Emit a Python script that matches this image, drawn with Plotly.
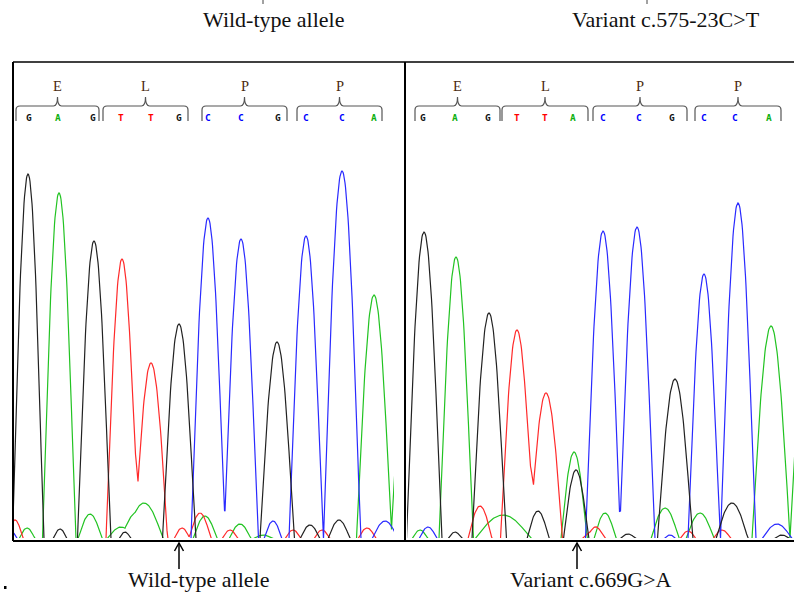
import numpy as np
import plotly.graph_objects as go

# ---------------- data ----------------
# Peaks per dye channel: position (scan units, from panel's left border),
# height (signal units), half-width (scan units)

# Left panel: wild-type
L_G_pos = [15, 81, 166, 264, 47, 112, 297, 326]
L_G_h   = [365, 298, 215, 197, 10, 7, 14, 19]
L_G_w   = [15.5, 16.5, 16.5, 17, 7, 6, 10, 11]

L_A_pos = [46, 361, 397, 14, 77, 108, 131, 192, 227, 250]
L_A_h   = [346, 244, 230, 11, 25, 12, 36, 23, 15, 4]
L_A_w   = [16.5, 17.5, 19, 8, 12, 14, 19, 12, 11, 10]

L_T_pos = [109, 138, 2, 169, 187, 217, 280, 309, 354]
L_T_h   = [280, 176, 19, 11, 26, 9, 9, 9, 11]
L_T_w   = [16, 16.5, 8, 8, 11, 8, 8, 8, 9]

L_C_pos = [195, 228, 293, 329, 260, 372, -2]
L_C_h   = [321, 300, 303, 368, 18, 18, 8]
L_C_w   = [17, 17, 17, 18.5, 9, 13, 6]

# Right panel: variant
R_G_pos = [19, 84, 270, 171, 50, 133, 223, 327, 377]
R_G_h   = [307, 226, 160, 69, 7, 28, 5, 36, 4]
R_G_w   = [17.5, 17, 17.5, 12.5, 7, 11, 8, 16, 8]

R_A_pos = [51, 366, 169, 405, 15, 98, 200, 260, 295]
R_A_h   = [282, 213, 87, 250, 9, 24, 26, 31, 26]
R_A_w   = [17, 19, 13, 20, 8, 28, 11, 14, 14]

R_T_pos = [112, 141, 75, 187, 193, 283, 317]
R_T_h   = [209, 146, 33, 7, 7, 8, 9]
R_T_w   = [16.5, 16.5, 12, 10, 8, 8, 9]

R_C_pos = [198, 232, 299, 333, 23, 265, 372]
R_C_h   = [308, 312, 265, 336, 12, 4, 15]
R_C_w   = [17.5, 17.5, 16, 17.5, 9, 6, 15]

# Base calls
L_seq = list("GAGTTGCCGCCA")
L_call_pos = [16, 45, 80, 108, 138, 166, 195, 228, 265, 293, 329, 361]
R_seq = list("GAGTTACCGCCA")
R_call_pos = [18, 50, 83, 112, 140, 168, 198, 234, 267, 299, 330, 364]

# Codons / amino acids
amino = ["E", "L", "P", "P"]
L_codon_start = [3, 90, 189, 284]
L_codon_end   = [86, 175, 274, 369]
R_codon_start = [10, 97, 188, 290]
R_codon_end   = [95, 183, 282, 376]

top_titles = ["Wild-type allele", "Variant c.575-23C>T"]
bottom_labels = ["Wild-type allele", "Variant c.669G>A"]

# ---------------- figure ----------------
W, H = 794, 593
def px(x): return x / W
def py(y): return 1 - y / H

COL = {"G": "#222222", "A": "#22c322", "T": "#ff2a2a", "C": "#2a2aff"}
BASECOL = {"G": "#111111", "A": "#10b010", "T": "#ff0000", "C": "#0000ff"}

def trace_curve(xs, pos, h, w):
    y = np.zeros_like(xs)
    for p, hh, ww in zip(pos, h, w):
        d = np.abs(xs - p)
        m = d < ww
        y[m] += hh * np.cos(np.pi * d[m] / (2 * ww))
    return y

fig = go.Figure()
xs = np.arange(-15, 420, 0.5)

panels = [
    ("x", "y", {"G": (L_G_pos, L_G_h, L_G_w), "A": (L_A_pos, L_A_h, L_A_w),
                "T": (L_T_pos, L_T_h, L_T_w), "C": (L_C_pos, L_C_h, L_C_w)}),
    ("x2", "y2", {"G": (R_G_pos, R_G_h, R_G_w), "A": (R_A_pos, R_A_h, R_A_w),
                  "T": (R_T_pos, R_T_h, R_T_w), "C": (R_C_pos, R_C_h, R_C_w)}),
]
for xa, ya, chans in panels:
    for base in ["A", "T", "C", "G"]:
        pos, h, w = chans[base]
        fig.add_trace(go.Scatter(x=xs, y=trace_curve(xs, pos, h, w), mode="lines",
                                 line=dict(color=COL[base], width=1.2),
                                 xaxis=xa, yaxis=ya, showlegend=False, hoverinfo="skip"))

ydom = [py(538), py(62)]
yr = [1, 477]
ax_common = dict(visible=False, showgrid=False, zeroline=False, fixedrange=True)
fig.update_layout(
    width=W, height=H, autosize=False,
    margin=dict(l=0, r=0, t=0, b=0),
    paper_bgcolor="white", plot_bgcolor="white",
    xaxis=dict(domain=[px(13), px(394)], range=[0, 381], **ax_common),
    xaxis2=dict(domain=[px(407), 1.0], range=[2, 389], **ax_common),
    yaxis=dict(domain=ydom, range=yr, **ax_common),
    yaxis2=dict(domain=ydom, range=yr, anchor="x2", **ax_common),
)

def v(ypix):  # pixel row -> signal units
    return 539 - ypix

shapes = []
annotations = []
serif = "Liberation Serif, Times New Roman, serif"

for xa, ya, seq, calls, cs, ce in [("x", "y", L_seq, L_call_pos, L_codon_start, L_codon_end),
                                   ("x2", "y2", R_seq, R_call_pos, R_codon_start, R_codon_end)]:
    for b, p in zip(seq, calls):
        annotations.append(dict(x=p, y=v(117.5), xref=xa, yref=ya, text="<b>%s</b>" % b,
                                showarrow=False, xanchor="center", yanchor="middle",
                                font=dict(family="DejaVu Sans Mono", size=9.5, color=BASECOL[b])))
    for aa, a, e in zip(amino, cs, ce):
        c = (a + e) / 2
        path = (f"M {a},{v(121)} L {a},{v(110)} Q {a},{v(106)} {a+4},{v(106)} "
                f"L {c-4},{v(106)} Q {c},{v(106)} {c},{v(97)} Q {c},{v(106)} {c+4},{v(106)} "
                f"L {e-4},{v(106)} Q {e},{v(106)} {e},{v(110)} L {e},{v(121)}")
        shapes.append(dict(type="path", path=path, xref=xa, yref=ya,
                           line=dict(color="#555555", width=1.2)))
        annotations.append(dict(x=c, y=v(86), xref=xa, yref=ya, text=aa, showarrow=False,
                                xanchor="center", yanchor="middle",
                                font=dict(family=serif, size=14.5, color="#4a2a10")))

# frame lines
lk = dict(color="black", width=2)
shapes += [
    dict(type="line", xref="paper", yref="paper", x0=px(13), x1=1.0, y0=py(62), y1=py(62), line=dict(color="black", width=1.6)),
    dict(type="line", xref="paper", yref="paper", x0=px(13), x1=1.0, y0=py(541), y1=py(541), line=lk),
    dict(type="line", xref="paper", yref="paper", x0=px(13), x1=px(13), y0=py(62), y1=py(541), line=lk),
    dict(type="line", xref="paper", yref="paper", x0=px(405), x1=px(405), y0=py(62), y1=py(541), line=lk),
]
# arrows
for ax_px in [179, 577]:
    shapes.append(dict(type="line", xref="paper", yref="paper", x0=px(ax_px), x1=px(ax_px),
                       y0=py(543), y1=py(569), line=dict(color="black", width=1.5)))
    shapes.append(dict(type="path", xref="paper", yref="paper",
                       path=f"M {px(ax_px-4.5)},{py(551)} L {px(ax_px)},{py(543)} L {px(ax_px+4.5)},{py(551)}",
                       line=dict(color="black", width=1.5)))
# small marks at the top and dot at bottom left
for mx in [263, 647]:
    shapes.append(dict(type="line", xref="paper", yref="paper", x0=px(mx), x1=px(mx),
                       y0=py(0), y1=py(4), line=dict(color="#444444", width=1)))
shapes.append(dict(type="rect", xref="paper", yref="paper", x0=px(4), x1=px(6.5),
                   y0=py(589), y1=py(586), fillcolor="black", line=dict(width=0)))

for t, cx in zip(top_titles, [273, 666]):
    annotations.append(dict(x=px(cx), y=py(20), xref="paper", yref="paper", text=t,
                            showarrow=False, xanchor="center", yanchor="middle",
                            font=dict(family=serif, size=22, color="#111111")))
for t, cx in zip(bottom_labels, [198, 591]):
    annotations.append(dict(x=px(cx), y=py(579), xref="paper", yref="paper", text=t,
                            showarrow=False, xanchor="center", yanchor="middle",
                            font=dict(family=serif, size=22, color="#111111")))

fig.update_layout(shapes=shapes, annotations=annotations)
fig.write_html("out.html", config={"displayModeBar": False, "staticPlot": True},
               post_script="document.body.style.margin='0';document.body.style.overflow='hidden';")
